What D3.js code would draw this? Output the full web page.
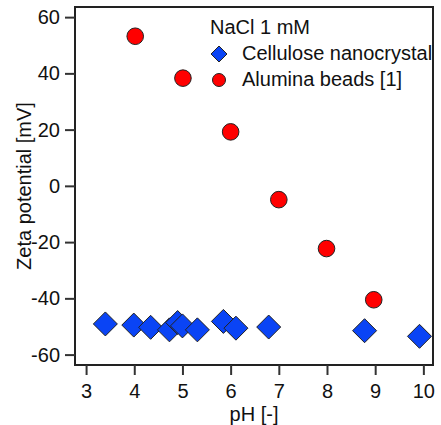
<!DOCTYPE html>
<html>
<head>
<meta charset="utf-8">
<script src="https://cdn.jsdelivr.net/npm/d3@7"></script>
<style>
	body { margin: 0; background: #fff; }
	svg { font-family: 'Liberation Sans', Arial, sans-serif; }
</style>
</head>
<body>
<svg id="chart"></svg>
<script>
const width = 441, height = 425;
const margin = { top: 7, right: 8, bottom: 60, left: 75 };
const fontSize = 20;

// cellulose nanocrystal, NaCl 1 mM
const cncPH = [3.4, 3.99, 4.34, 4.73, 4.9, 5.0, 5.31, 5.85, 6.11, 6.79, 8.78, 9.92];
const cncZeta = [-49.1, -49.5, -50.3, -51.2, -48.6, -49.8, -51.2, -48.2, -50.6, -50.2, -51.5, -53.5];

// alumina beads [1]
const aluPH = [4.02, 5.01, 6.0, 7.0, 7.99, 8.97];
const aluZeta = [53.2, 38.3, 19.2, -4.9, -22.3, -40.5];

const xTicks = [3, 4, 5, 6, 7, 8, 9, 10];
const yTicks = [-60, -40, -20, 0, 20, 40, 60];

const legendTitle = 'NaCl 1 mM';
const legendLabels = ['Cellulose nanocrystal', 'Alumina beads [1]'];

const blue = '#0a44f5', red = '#ff0000';

const svg = d3.select('#chart')
	.attr('width', width)
	.attr('height', height);

const xScale = d3.scaleLinear()
	.domain([2.77, 10.2])
	.range([margin.left, width - margin.right]);

const yScale = d3.scaleLinear()
	.domain([-63.7, 63.6])
	.range([height - margin.bottom, margin.top]);

// frame
svg.append('rect')
	.attr('x', margin.left)
	.attr('y', margin.top)
	.attr('width', width - margin.right - margin.left)
	.attr('height', height - margin.bottom - margin.top)
	.attr('fill', 'none')
	.attr('stroke', '#222')
	.attr('stroke-width', 2);

// plain hyphen for negatives, like the original
const fmt = d => String(d);

const xAxis = svg.append('g')
	.attr('transform', `translate(0,${height - margin.bottom})`)
	.call(d3.axisBottom(xScale).tickValues(xTicks).tickSize(10).tickPadding(9).tickFormat(fmt));

const yAxis = svg.append('g')
	.attr('transform', `translate(${margin.left},0)`)
	.call(d3.axisLeft(yScale).tickValues(yTicks).tickSize(10).tickPadding(5).tickFormat(fmt));

[xAxis, yAxis].forEach(g => {
	g.select('.domain').remove();
	g.selectAll('line').attr('stroke', '#333').attr('stroke-width', 2);
	g.selectAll('text').attr('font-size', fontSize).attr('fill', '#111')
		.style('font-family', "'Liberation Sans', Arial, sans-serif");
});

// axis titles
svg.append('text')
	.attr('x', (margin.left + width - margin.right) / 2)
	.attr('y', 421)
	.attr('text-anchor', 'middle')
	.attr('font-size', fontSize)
	.attr('fill', '#111')
	.text('pH [-]');

svg.append('text')
	.attr('transform', `translate(31,${(margin.top + height - margin.bottom) / 2}) rotate(-90)`)
	.attr('text-anchor', 'middle')
	.attr('font-size', fontSize)
	.attr('fill', '#111')
	.text('Zeta potential [mV]');

const diamond = s => `M0,${-s}L${s},0L0,${s}L${-s},0Z`;

const cnc = cncPH.map((p, i) => ({ x: p, y: cncZeta[i] }));
const alu = aluPH.map((p, i) => ({ x: p, y: aluZeta[i] }));

svg.selectAll('.cnc')
	.data(cnc)
	.enter()
	.append('path')
	.attr('class', 'cnc')
	.attr('d', diamond(12))
	.attr('transform', d => `translate(${xScale(d.x)},${yScale(d.y)})`)
	.attr('fill', blue)
	.attr('stroke', '#222')
	.attr('stroke-width', 1);

svg.selectAll('.alu')
	.data(alu)
	.enter()
	.append('circle')
	.attr('class', 'alu')
	.attr('cx', d => xScale(d.x))
	.attr('cy', d => yScale(d.y))
	.attr('r', 8.3)
	.attr('fill', red)
	.attr('stroke', '#222')
	.attr('stroke-width', 1);

// legend
const legend = svg.append('g');
legend.append('text')
	.attr('x', 210).attr('y', 34)
	.attr('font-size', fontSize).attr('fill', '#111')
	.text(legendTitle);
legend.append('path')
	.attr('d', diamond(8))
	.attr('transform', 'translate(219,54)')
	.attr('fill', blue).attr('stroke', '#222').attr('stroke-width', 1);
legend.append('circle')
	.attr('cx', 219).attr('cy', 80).attr('r', 6.5)
	.attr('fill', red).attr('stroke', '#222').attr('stroke-width', 1);
legendLabels.forEach((t, i) => {
	legend.append('text')
		.attr('x', 242).attr('y', 60 + i * 26)
		.attr('font-size', fontSize).attr('fill', '#111')
		.text(t);
});
</script>
</body>
</html>
